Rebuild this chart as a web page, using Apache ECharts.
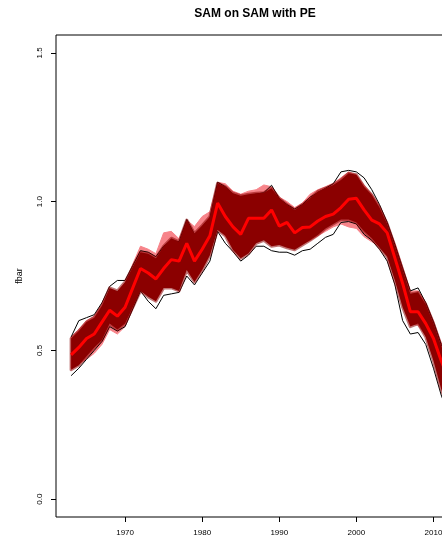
<!DOCTYPE html>
<html>
<head>
<meta charset="utf-8">
<script src="https://cdn.jsdelivr.net/npm/echarts@6/dist/echarts.min.js"></script>
<style>
html,body{margin:0;padding:0;background:#fff;overflow:hidden;}
#c{width:480px;height:539px;}
</style>
</head>
<body>
<div id="c"></div>
<script>
var years = [];
for (var y = 1963; y <= 2012; y++) years.push(y);

var est = [0.485,0.51,0.54,0.555,0.595,0.635,0.615,0.645,0.71,0.775,
           0.76,0.74,0.775,0.805,0.80,0.86,0.80,0.84,0.885,0.995,
           0.95,0.915,0.89,0.944,0.944,0.944,0.972,0.918,0.93,0.895,
           0.913,0.915,0.935,0.95,0.958,0.98,1.008,1.011,0.972,0.938,
           0.925,0.895,0.81,0.725,0.63,0.63,0.59,0.54,0.465,0.40];

var darkHi = [0.54,0.565,0.595,0.61,0.65,0.71,0.70,0.73,0.78,0.83,
              0.825,0.81,0.85,0.877,0.865,0.938,0.893,0.92,0.949,1.062,
              1.05,1.028,1.02,1.025,1.028,1.03,1.045,1.011,0.99,0.972,
              0.99,1.011,1.034,1.045,1.056,1.073,1.095,1.09,1.05,1.022,
              0.98,0.925,0.85,0.77,0.69,0.695,0.655,0.59,0.515,0.46];

var darkLo = [0.435,0.45,0.48,0.51,0.535,0.59,0.57,0.59,0.645,0.70,
              0.68,0.665,0.71,0.71,0.70,0.77,0.73,0.77,0.82,0.905,
              0.885,0.837,0.81,0.826,0.86,0.87,0.85,0.854,0.845,0.838,
              0.854,0.87,0.888,0.91,0.925,0.94,0.94,0.93,0.90,0.877,
              0.845,0.815,0.735,0.645,0.58,0.59,0.545,0.465,0.37,0.30];

var pinkHi = [0.545,0.57,0.6,0.615,0.655,0.705,0.69,0.725,0.79,0.85,
              0.84,0.825,0.895,0.90,0.875,0.938,0.916,0.95,0.966,1.065,
              1.06,1.035,1.025,1.035,1.04,1.056,1.05,1.015,1.0,0.98,
              0.995,1.025,1.04,1.05,1.062,1.08,1.10,1.09,1.055,1.025,
              0.985,0.93,0.86,0.78,0.70,0.70,0.66,0.60,0.525,0.465];

var pinkLo = [0.44,0.455,0.47,0.49,0.52,0.57,0.555,0.58,0.64,0.71,
              0.69,0.675,0.72,0.73,0.72,0.78,0.74,0.78,0.83,0.92,
              0.885,0.85,0.825,0.84,0.87,0.875,0.87,0.865,0.86,0.85,
              0.86,0.87,0.885,0.9,0.915,0.925,0.915,0.91,0.882,0.865,
              0.85,0.82,0.745,0.655,0.59,0.585,0.55,0.475,0.39,0.32];

var blackHi = [0.545,0.60,0.61,0.62,0.66,0.715,0.735,0.735,0.785,0.835,
               0.83,0.815,0.85,0.87,0.865,0.94,0.89,0.915,0.945,1.065,
               1.05,1.025,1.015,1.02,1.025,1.03,1.055,1.01,0.99,0.975,
               0.99,1.015,1.03,1.045,1.06,1.10,1.105,1.10,1.08,1.04,
               0.99,0.93,0.855,0.775,0.70,0.71,0.66,0.595,0.52,0.47];

var blackLo = [0.415,0.44,0.47,0.50,0.53,0.58,0.565,0.58,0.64,0.70,
               0.665,0.64,0.685,0.69,0.695,0.75,0.72,0.76,0.80,0.90,
               0.86,0.832,0.80,0.82,0.85,0.85,0.835,0.83,0.83,0.82,
               0.835,0.84,0.86,0.88,0.89,0.93,0.933,0.925,0.89,0.87,
               0.84,0.80,0.72,0.60,0.555,0.56,0.52,0.44,0.35,0.28];

var yTicks = [0, 0.5, 1.0, 1.5];
var xTicks = [1970, 1980, 1990, 2000, 2010];

var FONT = 'Liberation Sans, Arial, Helvetica, sans-serif';

function pairs(arr) { return years.map(function (yr, i) { return [yr, arr[i]]; }); }

function band(lo, hi, fill, stroke, strokeWidth, z) {
  return {
    type: 'custom', z: z, silent: true, clip: true,
    data: [[years[0], lo[0]]],
    renderItem: function (params, api) {
      var pts = [], i;
      for (i = 0; i < years.length; i++) pts.push(api.coord([years[i], hi[i]]));
      for (i = years.length - 1; i >= 0; i--) pts.push(api.coord([years[i], lo[i]]));
      return { type: 'polygon', shape: { points: pts },
               style: { fill: fill, stroke: stroke, lineWidth: strokeWidth, lineJoin: 'round' } };
    }
  };
}

function line(arr, color, width, z) {
  return {
    type: 'line', z: z, data: pairs(arr), showSymbol: false, symbol: 'none',
    silent: true, clip: true,
    lineStyle: { color: color, width: width }, itemStyle: { color: color }
  };
}

var chart = echarts.init(document.getElementById('c'));
chart.setOption({
  animation: false,
  backgroundColor: '#fff',
  graphic: [{
    type: 'text', x: 255, y: 8,
    style: { text: 'SAM on SAM with PE', font: 'bold 12px ' + FONT, fill: '#000', align: 'center', verticalAlign: 'top' }
  }],
  grid: { left: 56, top: 35, width: 408, height: 482, show: true, borderColor: '#000', borderWidth: 1, backgroundColor: 'transparent' },
  xAxis: {
    type: 'value', min: 1961.04, max: 2013.96,
    axisLine: { show: false, onZero: false },
    splitLine: { show: false },
    axisTick: { show: true, inside: false, customValues: xTicks, length: 5, lineStyle: { color: '#000' } },
    axisLabel: { customValues: xTicks, color: '#000', fontSize: 8, fontFamily: FONT, margin: 12,
                 formatter: function (v) { return String(v); } }
  },
  yAxis: {
    type: 'value', min: -0.06, max: 1.56,
    name: 'fbar', nameLocation: 'middle', nameRotate: 90, nameGap: 32,
    nameTextStyle: { color: '#000', fontSize: 9, fontFamily: FONT },
    axisLine: { show: false, onZero: false },
    splitLine: { show: false },
    axisTick: { show: true, inside: false, customValues: yTicks, length: 5, lineStyle: { color: '#000' } },
    axisLabel: { customValues: yTicks, color: '#000', fontSize: 8, fontFamily: FONT, rotate: 90, margin: 12,
                 formatter: function (v) { return v.toFixed(1); } }
  },
  series: [
    band(pinkLo, pinkHi, '#F7848A', '#F7848A', 1, 1),
    line(blackHi, '#000', 1, 2),
    line(blackLo, '#000', 1, 2),
    band(darkLo, darkHi, '#8B0000', 'rgba(139,0,0,0.55)', 3, 3),
    line(est, '#FF0000', 3, 4)
  ]
});
</script>
</body>
</html>
